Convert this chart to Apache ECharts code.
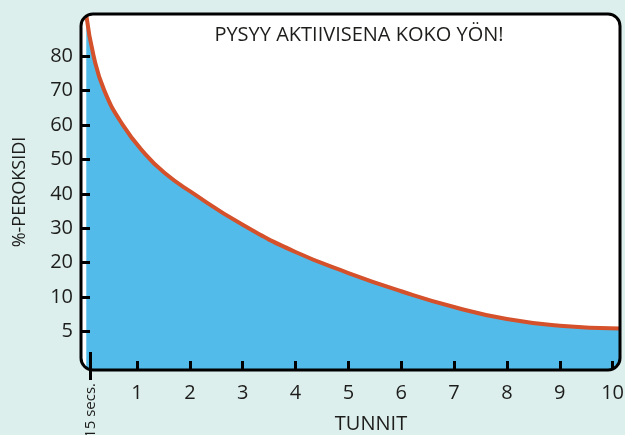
<!DOCTYPE html>
<html>
<head>
<meta charset="utf-8">
<script src="https://cdn.jsdelivr.net/npm/echarts@6/dist/echarts.min.js"></script>
<style>
html,body{margin:0;padding:0;background:#dcefed;}
#c{width:625px;height:435px;}
</style>
</head>
<body>
<div id="c"></div>
<script>
// ---- data ----
const hours    = [0.04, 0.18, 0.38, 0.72, 1.16, 1.53, 2,    3,    4,    5,    6,    7,    8,   9,    10.14];
const peroxide = [92,   80,   70.1, 60.3, 51.5, 46.0, 40.8, 31.0, 23.1, 17.0, 11.7, 8.55, 6.8, 5.83, 5.42];
const yTickLabels = [5, 10, 20, 30, 40, 50, 60, 70, 80];
const xTickLabels = [1, 2, 3, 4, 5, 6, 7, 8, 9, 10];
const firstTickHour = 0.12;
const firstTickLabel = '15 secs.';
const titleText = 'PYSYY AKTIIVISENA KOKO YÖN!';
const xName = 'TUNNIT';
const yName = '%-PEROKSIDI';

// The printed y scale is uneven: the "5" tick sits one full step below "10".
function toAxis(v){ return v >= 10 ? v : (v - 5) * 2; }
function fromAxis(p){ return p >= 10 ? p : 5 + p / 2; }

const yTickPos = yTickLabels.map(toAxis);
const seriesData = hours.map((h, i) => [h, toAxis(peroxide[i])]);

const BG = '#dcefed';
const FONT = '"Open Sans", "DejaVu Sans", sans-serif';
const TXT = '#1d1d1b';

const L = 81, T = 14, R = 620, B = 370, RAD = 12;

// masks that hide the plot fill outside the rounded frame corners
function cornerMask(cx, cy, ox, oy, a0, a1){
  const pts = [[ox, oy]];
  const n = 12;
  for (let i = 0; i <= n; i++){
    const a = a0 + (a1 - a0) * i / n;
    pts.push([cx + RAD * Math.cos(a), cy + RAD * Math.sin(a)]);
  }
  return { type:'polygon', z:100, silent:true, shape:{ points: pts }, style:{ fill: BG, stroke: null } };
}
const P = Math.PI;
const masks = [
  cornerMask(L+RAD, T+RAD, L-2, T-2, P, 1.5*P),
  cornerMask(R-RAD, T+RAD, R+2, T-2, 1.5*P, 2*P),
  cornerMask(L+RAD, B-RAD, L-2, B+2, 0.5*P, P),
  cornerMask(R-RAD, B-RAD, R+2, B+2, 0, 0.5*P)
];

const chart = echarts.init(document.getElementById('c'), null, {renderer:'canvas'});
chart.setOption({
  backgroundColor: BG,
  animation: false,
  grid: {
    left: L, top: T, right: 625 - R, bottom: 435 - B,
    outerBoundsMode: 'none', containLabel: false,
    show: true, backgroundColor: '#ffffff', borderWidth: 0
  },
  xAxis: [
    {
      type: 'value', min: -0.06, max: 10.14, z: 5,
      axisLine: { show: false, onZero: false },
      splitLine: { show: false },
      axisTick: { show: true, inside: true, length: 9, customValues: xTickLabels, lineStyle: { color: '#000', width: 3 } },
      axisLabel: { show: true, customValues: xTickLabels, margin: 13, fontFamily: FONT, fontSize: 20, color: TXT }
    },
    {
      type: 'value', min: -0.06, max: 10.14, z: 5, position: 'bottom',
      axisLine: { show: false, onZero: false }, splitLine: { show: false },
      axisTick: { show: true, inside: false, length: 10, customValues: [firstTickHour], lineStyle: { color: '#000', width: 3 } },
      axisLabel: { show: true, customValues: [firstTickHour], rotate: 90, margin: 13,
        formatter: () => firstTickLabel, fontFamily: FONT, fontSize: 15, color: TXT }
    },
    {
      type: 'value', min: -0.06, max: 10.14, z: 5, position: 'bottom',
      axisLine: { show: false, onZero: false }, splitLine: { show: false },
      axisTick: { show: true, inside: true, length: 18, customValues: [firstTickHour], lineStyle: { color: '#000', width: 3 } },
      axisLabel: { show: false }
    }
  ],
  yAxis: {
    type: 'value', min: -11.2, max: 92.3, z: 5,
    name: yName, nameLocation: 'middle', nameGap: 52, nameRotate: 90,
    nameTextStyle: { fontFamily: FONT, fontSize: 18, color: TXT },
    axisLine: { show: false, onZero: false },
    splitLine: { show: false },
    axisTick: { show: true, inside: true, length: 9, customValues: yTickPos, lineStyle: { color: '#000', width: 3 } },
    axisLabel: { show: true, customValues: yTickPos, margin: 8, fontFamily: FONT, fontSize: 20, color: TXT,
      formatter: v => String(Math.round(fromAxis(v))) }
  },
  graphic: [
    ...masks,
    { type:'rect', z:101, silent:true, shape:{ x:L, y:T, width:R-L, height:B-T, r:RAD },
      style:{ fill:null, stroke:'#000', lineWidth:3 } },
    { type:'text', z:101, silent:true, x:359, y:35,
      style:{ text:titleText, fontFamily:FONT, fontSize:20, fill:TXT, align:'center', verticalAlign:'middle' } },
    { type:'text', z:101, silent:true, x:371, y:424,
      style:{ text:xName, fontFamily:FONT, fontSize:20, fill:TXT, align:'center', verticalAlign:'middle' } }
  ],
  series: [{
    type: 'line', xAxisIndex: 0, data: seriesData, smooth: 0.5, showSymbol: false,
    lineStyle: { color: '#d4512b', width: 4 },
    areaStyle: { color: '#53bbe9', opacity: 1, origin: 'start' },
    clip: true
  }]
});
</script>
</body>
</html>
